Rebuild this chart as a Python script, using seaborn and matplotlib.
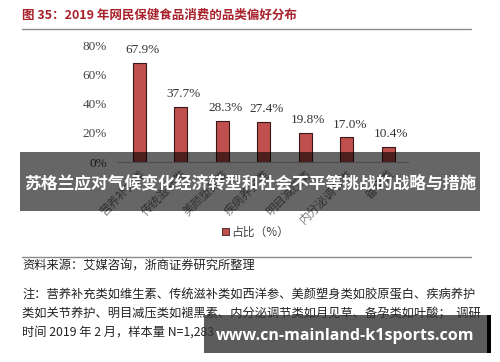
import matplotlib
matplotlib.use("Agg")
import matplotlib.pyplot as plt
import seaborn as sns
from matplotlib.patches import Rectangle, Patch
from matplotlib.lines import Line2D

categories = ["营养补充类", "传统滋补类", "美颜塑身类", "疾病养护类", "明目减压类", "内分泌调节类", "备孕类"]
shares = [67.9, 37.7, 28.3, 27.4, 19.8, 17.0, 10.4]
y_ticks = [0, 20, 40, 60, 80]

title = "图 35：2019 年网民保健食品消费的品类偏好分布"
overlay_title = "苏格兰应对气候变化经济转型和社会不平等挑战的战略与措施"
legend_label = "占比（%）"
source = "资料来源：艾媒咨询，浙商证券研究所整理"
notes = [
    "注：营养补充类如维生素、传统滋补类如西洋参、美颜塑身类如胶原蛋白、疾病养护",
    "类如关节养护、明目减压类如褪黑素、内分泌调节类如月见草、备孕类如叶酸；  调研",
    "时间 2019 年 2 月，样本量 N=1,283",
]
watermark = "www.cn-mainland-k1sports.com"

sns.set_style("white")
plt.rcParams["font.family"] = ["Noto Sans CJK SC", "DejaVu Sans"]

W, H = 500, 362
fig = plt.figure(figsize=(W / 100, H / 100), dpi=100)
fig.patch.set_facecolor("white")


def fx(px):
    return px / W


def fy(py):
    return 1 - py / H


bar_color = "#C0504D"
ax = fig.add_axes([fx(118), fy(162), fx(408) - fx(118), fy(45) - fy(162)])
sns.barplot(x=categories, y=shares, color=bar_color, saturation=1, width=0.31,
            edgecolor="#3b1616", linewidth=0.8, ax=ax)
ax.set_xlim(-0.51, 6.48)
ax.set_ylim(0, 80)
ax.set_yticks(y_ticks)
ax.set_yticklabels([f"{t}%" for t in y_ticks], family="Liberation Serif", fontsize=9.5, color="#444444")
ax.tick_params(axis="y", length=0, pad=8)
ax.tick_params(axis="x", length=0, pad=4)
ax.set_xticks(range(len(categories)))
ax.set_xticklabels(categories, rotation=45, ha="right", rotation_mode="anchor",
                   fontsize=8.5, color="#777777")
ax.set_xlabel("")
ax.set_ylabel("")
for s in ["top", "left", "right"]:
    ax.spines[s].set_visible(False)
ax.spines["bottom"].set_color("#bbbbbb")
ax.spines["bottom"].set_linewidth(0.8)
for i, v in enumerate(shares):
    ax.text(i + 0.08, v + 4.5, f"{v}%", ha="center", va="bottom",
            family="Liberation Serif", fontsize=9.5, color="#333333")

ax.legend(handles=[Patch(facecolor=bar_color, edgecolor="#3b1616", linewidth=0.6)],
          labels=[legend_label], loc="center left", bbox_to_anchor=(fx(211), fy(232)),
          bbox_transform=fig.transFigure, frameon=False, handlelength=0.6, handleheight=0.6,
          handletextpad=0.2, prop={"size": 8.5}, labelcolor="#444444")

# title and rules
fig.text(fx(22), fy(15), title, ha="left", va="center", fontsize=9,
         fontweight="bold", color="#A8202A")
for yy in [29, 257]:
    fig.add_artist(Line2D([fx(22), fx(471)], [fy(yy), fy(yy)], color="#8a8a8a", lw=1.0))

# gray overlay band with headline
fig.add_artist(Rectangle((fx(20), fy(211)), fx(480) - fx(20), fy(152) - fy(211),
                         transform=fig.transFigure, facecolor="black", alpha=0.6,
                         edgecolor="none", zorder=10))
fig.text(fx(250), fy(183), overlay_title, ha="center", va="center", fontsize=12.1,
         fontweight="bold", color="white", zorder=11)

# source and notes
fig.text(fx(22), fy(266), source, ha="left", va="center", fontsize=8.8, color="#222222")
for k, line in enumerate(notes):
    fig.text(fx(22), fy(295 + 18.5 * k), line, ha="left", va="center", fontsize=8.8, color="#222222")

# watermark box
fig.add_artist(Rectangle((fx(204), fy(353)), fx(487) - fx(204), fy(315) - fy(353),
                         transform=fig.transFigure, facecolor="#333333", alpha=0.8,
                         edgecolor="none", zorder=10))
fig.add_artist(Rectangle((fx(487), fy(353)), fx(491) - fx(487), fy(315) - fy(353),
                         transform=fig.transFigure, facecolor="black",
                         edgecolor="none", zorder=10))
fig.text(fx(345), fy(336), watermark, ha="center", va="center", fontsize=11.5,
         family="Open Sans", fontweight="bold", color="white", zorder=11)

fig.savefig("out.png", dpi=100, facecolor="white")
